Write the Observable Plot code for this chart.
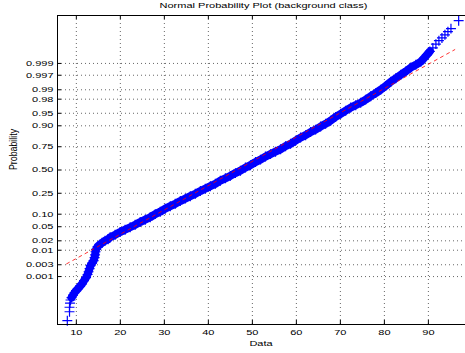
<!DOCTYPE html>
<html>
<head>
<meta charset="utf-8">
<script src="https://cdn.jsdelivr.net/npm/d3@7"></script>
<script src="https://cdn.jsdelivr.net/npm/@observablehq/plot@0.6"></script>
<style>
  html, body { margin: 0; padding: 0; background: #fff; overflow: hidden; }
  #wrap { width: 470px; }
  #title { width: 470px; height: 15px; box-sizing: border-box; padding-left: 57px; text-align: center;
           font-family: "Liberation Sans", Arial, sans-serif; font-size: 11px; line-height: 15px; color: #000;
           white-space: nowrap; transform: scaleY(0.72); transform-origin: center top; }
</style>
</head>
<body>
<div id="wrap">
  <div id="title">Normal Probability Plot (background class)</div>
  <div id="chart"></div>
</div>
<script>
// ---- data (x = data value, z = normal quantile of the plotting position) ----
const lowTailData = [7.95, 8.45, 8.45, 8.56, 8.68];
const lowTailZ    = [-4.37, -4.11, -3.98, -3.86, -3.77];

const coreData = [8.91, 9.25, 9.59, 9.93, 10.39, 10.84, 11.30, 11.75, 12.21, 12.55, 12.78, 13.01, 13.23, 13.58, 13.92,
  14.15, 14.26, 14.37, 14.49, 14.83, 15.28, 15.85, 16.53, 17.22, 17.68, 18.82, 19.95, 21.09, 22.23, 23.37, 24.51,
  25.65, 26.79, 27.93, 29.07, 30.21, 31.35, 32.48, 33.62, 34.76, 35.90, 37.04, 38.18, 39.32, 40.46, 41.59, 42.73,
  43.87, 45.01, 46.15, 47.29, 48.43, 49.57, 50.71, 51.85, 52.98, 54.12, 55.26, 56.40, 57.54, 58.68, 59.82, 60.96,
  62.10, 63.23, 64.37, 65.51, 66.65, 67.79, 68.93, 70.07, 71.21, 72.35, 73.49, 74.62, 75.76, 76.90, 78.04, 79.18,
  80.32, 81.46, 82.60, 83.74, 84.87, 86.01, 87.15, 88.29, 88.97, 89.66, 90.34];
const coreZ = [-3.70, -3.63, -3.56, -3.50, -3.44, -3.37, -3.30, -3.21, -3.12, -3.03, -2.95, -2.86, -2.77, -2.70, -2.63,
  -2.54, -2.46, -2.37, -2.30, -2.22, -2.17, -2.11, -2.05, -2.01, -1.95, -1.88, -1.80, -1.73, -1.66, -1.59, -1.51,
  -1.44, -1.37, -1.28, -1.21, -1.12, -1.05, -0.98, -0.90, -0.83, -0.76, -0.69, -0.61, -0.54, -0.47, -0.40, -0.31,
  -0.24, -0.17, -0.09, -0.02, 0.07, 0.14, 0.23, 0.30, 0.39, 0.46, 0.53, 0.60, 0.69, 0.76, 0.85, 0.94,
  1.01, 1.10, 1.17, 1.26, 1.34, 1.43, 1.54, 1.63, 1.72, 1.81, 1.88, 1.95, 2.04, 2.14, 2.23, 2.33,
  2.44, 2.56, 2.66, 2.76, 2.86, 2.97, 3.05, 3.14, 3.24, 3.34, 3.44];

const highTailData = [91.02, 91.71, 92.39, 93.08, 93.76, 94.44, 95.13, 96.88];
const highTailZ    = [3.54, 3.65, 3.75, 3.83, 3.92, 4.01, 4.10, 4.33];

// fitted reference line (endpoints)
const fitData = [7.8, 96.0];
const fitZ    = [-2.72, 3.49];

// axes
const xTicks = [10, 20, 30, 40, 50, 60, 70, 80, 90];
const xDomain = [5.72, 99.57];
const probTicks  = [0.001, 0.003, 0.01, 0.02, 0.05, 0.10, 0.25, 0.50, 0.75, 0.90, 0.95, 0.98, 0.99, 0.997, 0.999];
const probLabels = ["0.001", "0.003", "0.01", "0.02", "0.05", "0.10", "0.25", "0.50", "0.75", "0.90", "0.95", "0.98", "0.99", "0.997", "0.999"];
const zDomain = [-4.48, 4.48];

// inverse standard normal CDF (Acklam) – maps probability ticks onto the quantile axis
function norminv(p) {
  const a = [-3.969683028665376e+01, 2.209460984245205e+02, -2.759285104469687e+02, 1.383577518672690e+02, -3.066479806614716e+01, 2.506628277459239e+00];
  const b = [-5.447609879822406e+01, 1.615858368580409e+02, -1.556989798598866e+02, 6.680131188771972e+01, -1.328068155288572e+01];
  const c = [-7.784894002430293e-03, -3.223964580411365e-01, -2.400758277161838e+00, -2.549671010114850e+00, 4.374664141464968e+00, 2.938163982698783e+00];
  const d = [7.784695709041462e-03, 3.224671290700398e-01, 2.445134137142996e+00, 3.754408661907416e+00];
  const pl = 0.02425, ph = 1 - pl;
  let q, r;
  if (p < pl) {
    q = Math.sqrt(-2 * Math.log(p));
    return (((((c[0]*q+c[1])*q+c[2])*q+c[3])*q+c[4])*q+c[5]) / ((((d[0]*q+d[1])*q+d[2])*q+d[3])*q+1);
  }
  if (p <= ph) {
    q = p - 0.5; r = q * q;
    return (((((a[0]*r+a[1])*r+a[2])*r+a[3])*r+a[4])*r+a[5])*q / (((((b[0]*r+b[1])*r+b[2])*r+b[3])*r+b[4])*r+1);
  }
  q = Math.sqrt(-2 * Math.log(1 - p));
  return -(((((c[0]*q+c[1])*q+c[2])*q+c[3])*q+c[4])*q+c[5]) / ((((d[0]*q+d[1])*q+d[2])*q+d[3])*q+1);
}

const zTicks = probTicks.map(norminv);
const zLabel = new Map(zTicks.map((z, i) => [z, probLabels[i]]));

const toPts = (xs, zs) => xs.map((x, i) => ({x, z: zs[i]}));
const core = toPts(coreData, coreZ);
const allPts = [...toPts(lowTailData, lowTailZ), ...core, ...toPts(highTailData, highTailZ)];
const fit = toPts(fitData, fitZ);

const W = 470, H = 338, ML = 57, MB = 29;
const innerW = W - ML, innerH = H - MB;
const blue = "#0000ff";
const gridStyle = {stroke: "#000", strokeOpacity: 0.6, strokeDasharray: "1,3"};

const chart = Plot.plot({
  width: W, height: H,
  marginLeft: ML, marginRight: 0, marginTop: 0, marginBottom: MB,
  style: {fontFamily: "Liberation Sans, Arial, sans-serif", fontSize: "11px", background: "#fff", color: "#000", overflow: "visible"},
  x: {domain: xDomain, ticks: xTicks, tickSize: 0, tickPadding: 4, label: null, tickFormat: d => String(d)},
  y: {domain: zDomain, ticks: zTicks, tickSize: 0, tickPadding: 4, label: null, tickFormat: z => zLabel.get(z)},
  marks: [
    Plot.ruleX(xTicks, {x: d => d, ...gridStyle}),
    Plot.ruleY(zTicks, {y: d => d, ...gridStyle}),
    Plot.line(core, {x: "x", y: "z", stroke: blue, strokeWidth: 8, strokeLinejoin: "round", strokeLinecap: "round"}),
    Plot.dot(allPts, {x: "x", y: "z", symbol: "plus", r: 3.3, stroke: blue, strokeWidth: 1.2, fill: "none"}),
    Plot.line(fit, {x: "x", y: "z", stroke: "#ff0000", strokeWidth: 1, strokeOpacity: 0.8, strokeDasharray: "3,4"}),
    Plot.tickX(xTicks, {x: d => d, insetTop: innerH - 4, stroke: "#000"}),
    Plot.tickX(xTicks, {x: d => d, insetBottom: innerH - 4, stroke: "#000"}),
    Plot.tickY(zTicks, {y: d => d, insetRight: innerW - 4, stroke: "#000"}),
    Plot.frame({stroke: "#000"}),
    Plot.text(["Data"], {text: d => d, frameAnchor: "bottom", dy: 15, dx: -3, lineAnchor: "top", fontSize: 11}),
    Plot.text(["Probability"], {text: d => d, frameAnchor: "left", dx: -44, rotate: -90, lineAnchor: "middle", fontSize: 11})
  ]
});
document.getElementById("chart").appendChild(chart);

// squash the lettering vertically, as in the reference picture
const svg = chart.tagName.toLowerCase() === "svg" ? chart : chart.querySelector("svg");
svg.querySelectorAll("text").forEach(t => {
  const tr = t.getAttribute("transform") || "";
  if (tr.includes("rotate")) {
    t.setAttribute("transform", tr + " scale(0.8,1)");
    return;
  }
  const b = t.getBBox();
  const cy = b.y + b.height / 2;
  t.setAttribute("transform", `${tr} translate(0,${cy}) scale(1,0.72) translate(0,${-cy})`.trim());
});
</script>
</body>
</html>
